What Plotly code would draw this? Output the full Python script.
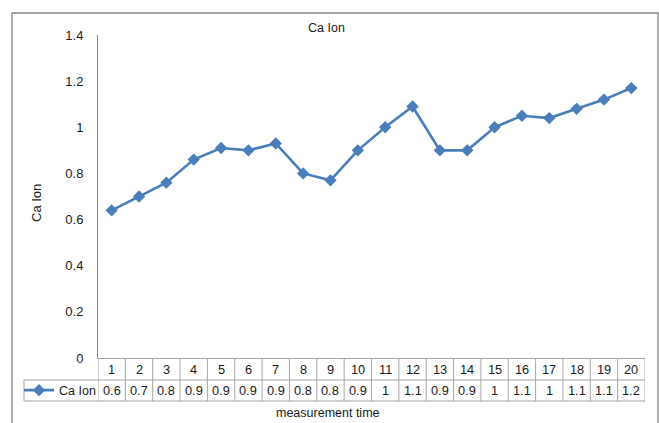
import plotly.graph_objects as go

W, H = 659, 423

categories = list(range(1, 21))
ca_ion = [0.64, 0.70, 0.76, 0.86, 0.91, 0.90, 0.93, 0.80, 0.77, 0.90,
          1.00, 1.09, 0.90, 0.90, 1.00, 1.05, 1.04, 1.08, 1.12, 1.17]
table_labels = ["0.6", "0.7", "0.8", "0.9", "0.9", "0.9", "0.9", "0.8", "0.8", "0.9",
                "1", "1.1", "0.9", "0.9", "1", "1.1", "1", "1.1", "1.1", "1.2"]
y_ticks = [0, 0.2, 0.4, 0.6, 0.8, 1, 1.2, 1.4]
series_name = "Ca Ion"
chart_title = "Ca Ion"
y_title = "Ca Ion"
x_title = "measurement time"

BLUE = "#4A7EBB"
GRID = "#A6A6A6"
AXIS = "#868686"
TXT = "#1a1a1a"
FONT = "Liberation Sans, Arial, sans-serif"


def px(x):
    return x / W


def py(y):
    return 1 - y / H


plot_left, plot_right = 98, 645
plot_top, plot_bottom = 35, 358
row1_bottom, row2_bottom = 380, 401
legend_left = 24

fig = go.Figure()
fig.add_trace(go.Scatter(
    x=categories, y=ca_ion, name=series_name, mode="lines+markers",
    line=dict(color=BLUE, width=2.6),
    marker=dict(symbol="diamond", size=9.5, color=BLUE),
    showlegend=True,
))

shapes = []
# outer chart border
shapes.append(dict(type="rect", xref="paper", yref="paper",
                   x0=px(12), x1=px(658), y0=py(13), y1=py(440),
                   line=dict(color=AXIS, width=1.3)))
# table vertical lines
edges = [c - 0.5 for c in categories] + [categories[-1] + 0.5]
for e in edges:
    shapes.append(dict(type="line", xref="x", yref="paper",
                       x0=e, x1=e, y0=py(plot_bottom), y1=py(row2_bottom),
                       line=dict(color=GRID, width=1)))
# table horizontal lines
for yy in (row1_bottom, row2_bottom):
    shapes.append(dict(type="line", xref="paper", yref="paper",
                       x0=px(legend_left), x1=px(plot_right), y0=py(yy), y1=py(yy),
                       line=dict(color=GRID, width=1)))
shapes.append(dict(type="line", xref="paper", yref="paper",
                   x0=px(legend_left), x1=px(legend_left),
                   y0=py(row1_bottom), y1=py(row2_bottom),
                   line=dict(color=GRID, width=1)))

annotations = []
for c, lab in zip(categories, table_labels):
    annotations.append(dict(x=c, y=py((plot_bottom + row1_bottom) / 2), xref="x", yref="paper",
                            xanchor="center", yanchor="middle",
                            text=str(c), showarrow=False,
                            font=dict(family=FONT, size=12.8, color=TXT)))
    annotations.append(dict(x=c, y=py((row1_bottom + row2_bottom) / 2), xref="x", yref="paper",
                            xanchor="center", yanchor="middle",
                            text=lab, showarrow=False,
                            font=dict(family=FONT, size=12.8, color=TXT)))
annotations.append(dict(x=px(326), y=py(28), xref="paper", yref="paper", text=chart_title,
                        xanchor="center", yanchor="middle",
                        showarrow=False, font=dict(family=FONT, size=12.5, color=TXT)))
annotations.append(dict(x=px(36), y=py(203), xref="paper", yref="paper", text=y_title,
                        xanchor="center", yanchor="middle",
                        textangle=-90, showarrow=False,
                        font=dict(family=FONT, size=13, color=TXT)))
annotations.append(dict(x=px(328), y=py(413), xref="paper", yref="paper", text=x_title,
                        xanchor="center", yanchor="middle",
                        showarrow=False, font=dict(family=FONT, size=12.5, color=TXT)))

fig.update_layout(
    template="none",
    width=W, height=H, autosize=False,
    margin=dict(l=0, r=0, t=0, b=0, pad=0, autoexpand=False),
    paper_bgcolor="white", plot_bgcolor="white",
    font=dict(family=FONT, size=12, color=TXT),
    xaxis=dict(domain=[px(plot_left), px(plot_right)], range=[0.5, 20.5],
               showgrid=False, zeroline=False, showticklabels=False,
               showline=True, linecolor=GRID, linewidth=1, ticks="",
               automargin=False),
    yaxis=dict(domain=[py(plot_bottom), py(plot_top)], range=[0, 1.4],
               tickvals=y_ticks, ticktext=[f"{v:g}" for v in y_ticks],
               showgrid=False, zeroline=False, showline=True,
               linecolor=AXIS, linewidth=1, ticks="", ticklabelstandoff=11,
               tickfont=dict(family=FONT, size=13, color=TXT),
               automargin=False),
    showlegend=True,
    legend=dict(x=px(legend_left - 5), xanchor="left",
                y=py((row1_bottom + row2_bottom) / 2), yanchor="middle",
                bgcolor="rgba(0,0,0,0)", borderwidth=0,
                font=dict(family=FONT, size=12.5, color=TXT),
                itemwidth=30, tracegroupgap=0),
    shapes=shapes,
    annotations=annotations,
)

fig.write_html(
    "out.html",
    post_script="document.body.style.margin='0';document.body.style.padding='0';"
                "document.body.style.overflow='hidden';",
)
